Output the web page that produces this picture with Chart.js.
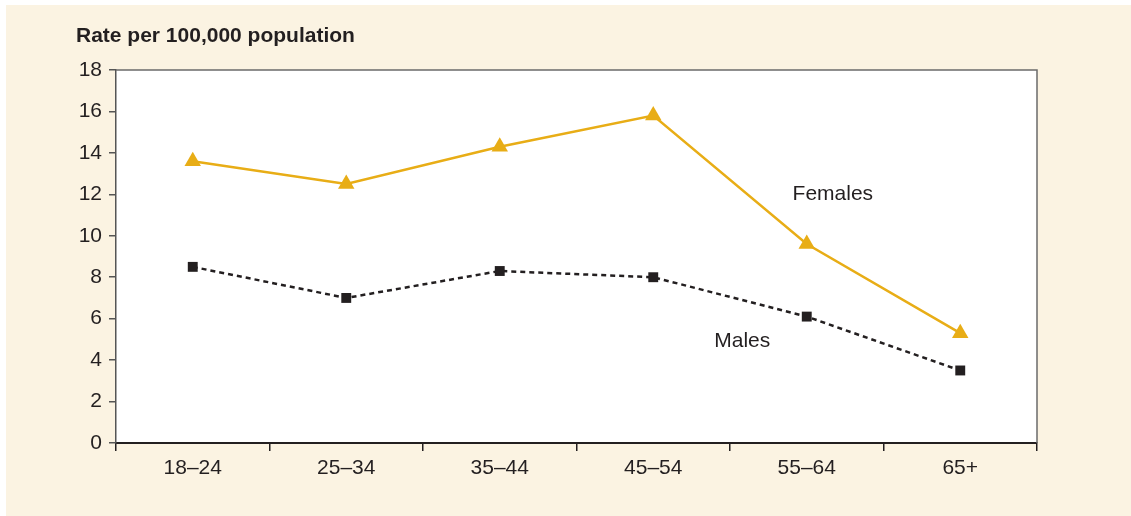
<!DOCTYPE html>
<html>
<head>
<meta charset="utf-8">
<script src="https://cdn.jsdelivr.net/npm/chart.js@4"></script>
<style>
  html, body { margin: 0; padding: 0; background: #ffffff; }
  #painel { position: absolute; left: 6px; top: 5px; width: 1125px; height: 511px; background: #fbf3e2; }
  #wrap { position: absolute; left: 0; top: 0; width: 1131px; height: 516px; }
</style>
</head>
<body>
<div id="painel"></div>
<div id="wrap"><canvas id="chartTaxas"></canvas></div>
<script>
// Dados
const faixasEtarias = ['18–24', '25–34', '35–44', '45–54', '55–64', '65+'];
const taxasMulheres = [13.6, 12.5, 14.3, 15.8, 9.6, 5.3];
const taxasHomens = [8.5, 7.0, 8.3, 8.0, 6.1, 3.5];
const nomesSeries = ['Females', 'Males'];
const tituloEixo = 'Rate per 100,000 population';

// Cores
const corMulheres = '#e8ad16';
const corHomens = '#231f20';
const corTexto = '#231f20';
const fonte = '"Liberation Sans", Arial, sans-serif';

// Fundo branco da area do grafico + moldura
const pluginMoldura = {
    id: 'moldura',
    beforeDraw(chart) {
        const { ctx, chartArea: a } = chart;
        ctx.save();
        ctx.fillStyle = '#ffffff';
        ctx.fillRect(a.left, a.top, a.right - a.left, a.bottom - a.top);
        ctx.restore();
    },
    afterDraw(chart) {
        const { ctx, chartArea: a } = chart;
        ctx.save();
        ctx.strokeStyle = '#6b6b6b';
        ctx.lineWidth = 1.5;
        ctx.beginPath();
        ctx.moveTo(a.left, a.top);
        ctx.lineTo(a.right, a.top);
        ctx.lineTo(a.right, a.bottom);
        ctx.stroke();

        // titulo do eixo
        ctx.fillStyle = corTexto;
        ctx.font = 'bold 21px ' + fonte;
        ctx.textBaseline = 'middle';
        ctx.textAlign = 'left';
        ctx.fillText(tituloEixo, 76, 36);

        // rotulos das series (em coordenadas de dados)
        const x = chart.scales.x, y = chart.scales.y;
        ctx.font = '21px ' + fonte;
        ctx.textAlign = 'center';
        const passo = x.getPixelForValue(1) - x.getPixelForValue(0);
        ctx.fillText(nomesSeries[0], x.getPixelForValue(4) + passo * 0.17, y.getPixelForValue(12.0));
        ctx.fillText(nomesSeries[1], x.getPixelForValue(3) + passo * 0.58, y.getPixelForValue(4.9));
        ctx.restore();
    }
};

new Chart(document.getElementById('chartTaxas').getContext('2d'), {
    type: 'line',
    data: {
        labels: faixasEtarias,
        datasets: [
            {
                label: nomesSeries[0],
                data: taxasMulheres,
                borderColor: corMulheres,
                backgroundColor: corMulheres,
                borderWidth: 2.5,
                pointStyle: 'triangle',
                pointRadius: 9.5,
                pointBorderWidth: 0,
                tension: 0
            },
            {
                label: nomesSeries[1],
                data: taxasHomens,
                borderColor: corHomens,
                backgroundColor: corHomens,
                borderWidth: 2.5,
                borderDash: [5, 4],
                pointStyle: 'rect',
                pointRadius: 7,
                pointBorderWidth: 0,
                tension: 0
            }
        ]
    },
    options: {
        responsive: true,
        maintainAspectRatio: false,
        animation: false,
        layout: { padding: { top: 70, right: 94, left: 0, bottom: 0 } },
        plugins: {
            legend: { display: false },
            tooltip: { enabled: false }
        },
        scales: {
            x: {
                offset: true,
                grid: { offset: true, drawOnChartArea: false, drawTicks: true, tickLength: 8, color: '#231f20', lineWidth: 1.5 },
                border: { color: '#231f20', width: 2 },
                ticks: { color: corTexto, font: { family: fonte, size: 21 }, padding: 5 },
                afterFit: (s) => { s.height = 73; }
            },
            y: {
                min: 0,
                max: 18,
                ticks: { stepSize: 2, color: corTexto, font: { family: fonte, size: 21 }, padding: 7 },
                grid: { drawOnChartArea: false, drawTicks: true, tickLength: 7, color: '#555555', lineWidth: 1.5 },
                border: { color: '#555555', width: 1.5 },
                afterFit: (s) => { s.width = 116; }
            }
        }
    },
    plugins: [pluginMoldura]
});
</script>
</body>
</html>
